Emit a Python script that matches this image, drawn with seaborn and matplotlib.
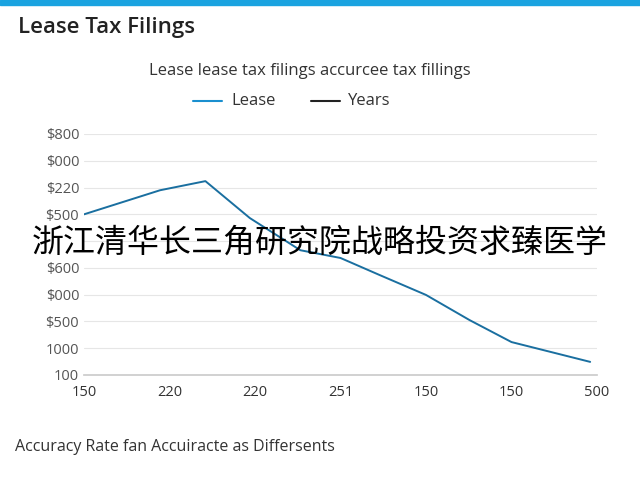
import matplotlib
matplotlib.use('Agg')
import matplotlib.pyplot as plt
import seaborn as sns
import pandas as pd

# data (axis units = tick index)
x_pos = [0, 0.89, 1.42, 1.94, 2.53, 3.0, 3.46, 4.0, 4.51, 5.0, 5.92]
lease = [6.0, 6.9, 7.24, 5.86, 4.66, 4.37, 3.73, 2.99, 2.05, 1.23, 0.49]
x_labels = ['150', '220', '220', '251', '150', '150', '500']
# the 5th label is covered by the overlay text in the reference
y_labels = ['100', '1000', '$500', '$000', '$600', '', '$500', '$220', '$000', '$800']

sns.set_theme(style='white')
plt.rcParams['font.family'] = ['Open Sans', 'Noto Sans CJK SC', 'DejaVu Sans']

df = pd.DataFrame({'x': x_pos, 'Lease': lease})

fig = plt.figure(figsize=(6.4, 4.8), dpi=100)
ax = fig.add_axes([84/640, 1-375/480, (597-84)/640, (375-134)/480])
sns.lineplot(data=df, x='x', y='Lease', ax=ax, color='#1a6fa0', lw=1.4)

ax.set_xlim(0, 6)
ax.set_ylim(0, 9)
ax.set_xticks(range(len(x_labels)))
ax.set_xticklabels(x_labels, fontsize=10.5, color='#333333')
ax.set_yticks(range(len(y_labels)))
ax.set_yticklabels(y_labels, fontsize=10.5, color='#555555')
ax.set_xlabel('')
ax.set_ylabel('')
ax.grid(axis='y', color='#e6e6e6', lw=0.8)
for s in ['top', 'right', 'left']:
    ax.spines[s].set_visible(False)
ax.spines['bottom'].set_color('#cccccc')
ax.tick_params(axis='x', length=4, color='#cccccc')
ax.tick_params(axis='y', length=0)

# top bar
fig.patches.append(plt.Rectangle((0, 1-5/480), 1, 5/480, transform=fig.transFigure,
                                 color='#1aa3e0', zorder=5))
fig.text(18/640, 1-27/480, 'Lease Tax Filings', fontsize=16, color='#222222', va='center', weight='semibold')
fig.text(310/640, 1-71/480, 'Lease lease tax filings accurcee tax fillings', fontsize=12,
         color='#333333', ha='center', va='center')

# legend
fig.lines.append(plt.Line2D([193/640, 222/640], [1-101/480]*2, transform=fig.transFigure, color='#1a8fcf', lw=1.5))
fig.text(231/640, 1-101/480, 'Lease', fontsize=12, color='#333333', va='center')
fig.lines.append(plt.Line2D([311/640, 340/640], [1-101/480]*2, transform=fig.transFigure, color='#222222', lw=1.5))
fig.text(348/640, 1-101/480, 'Years', fontsize=12, color='#333333', va='center')

fig.text(15/640, 1-447/480, 'Accuracy Rate fan Accuiracte as Differsents', fontsize=11.5,
         color='#333333', va='center')

fig.text(320/640, 1-243/480, '浙江清华长三角研究院战略投资求臻医学', fontsize=23,
         color='black', ha='center', va='center', family=['Noto Sans CJK SC', 'DejaVu Sans'])

fig.savefig('out.png', dpi=100)
